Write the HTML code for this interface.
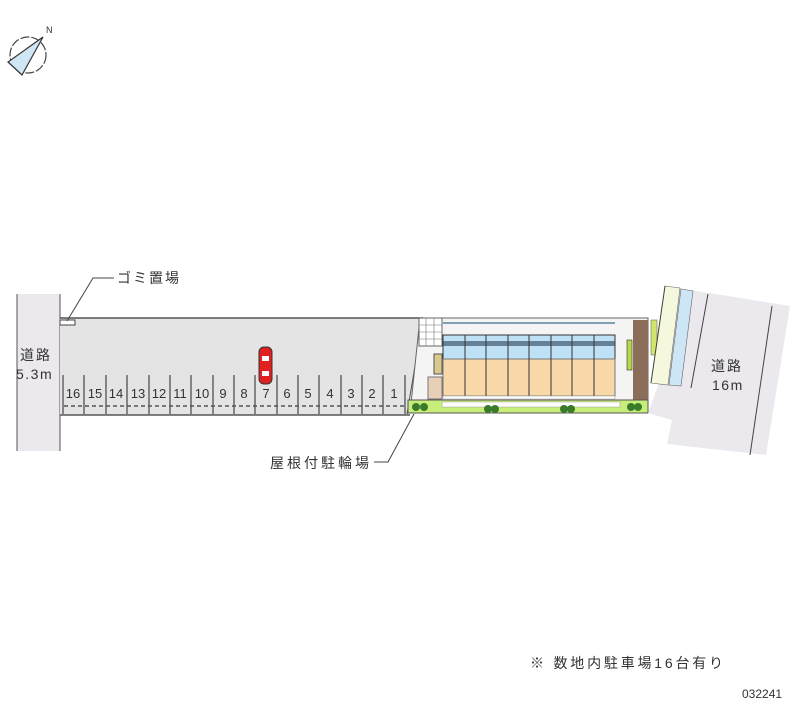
<!DOCTYPE html>
<html><head><meta charset="utf-8"><style>
html,body{margin:0;padding:0;background:#fff;}
svg{display:block;}
text{font-family:"Liberation Sans","Noto Sans CJK JP",sans-serif;fill:#333;}
</style></head><body>
<svg width="800" height="727" viewBox="0 0 800 727" xmlns="http://www.w3.org/2000/svg">
<circle cx="28" cy="55" r="18" fill="none" stroke="#444" stroke-width="1.2" stroke-dasharray="9 2"/>
<polygon points="43,37 8,62 22,75" fill="#cfe6f4" stroke="#333" stroke-width="1.2"/>
<text x="46" y="33" font-size="9">N</text>
<rect x="17" y="294" width="43" height="157" fill="#ebe8ee"/>
<line x1="17" y1="294" x2="17" y2="451" stroke="#555"/>
<line x1="60" y1="294" x2="60" y2="451" stroke="#555"/>
<text x="20" y="360" font-size="14" letter-spacing="2">道路</text>
<text x="16" y="379" font-size="14" letter-spacing="1.5">5.3m</text>
<polygon points="60,318 423,318 408,415 60,415" fill="#e4e4e4"/>
<line x1="60" y1="318" x2="423" y2="318" stroke="#555" stroke-width="1.5"/>
<line x1="60" y1="415" x2="410" y2="415" stroke="#555" stroke-width="1.5"/>
<line x1="423" y1="318" x2="407" y2="414" stroke="#555"/>
<rect x="60" y="320" width="15" height="5" fill="#fff" stroke="#444"/>
<g stroke="#444" stroke-width="1.2">
<line x1="63" y1="375" x2="63" y2="414"/><line x1="84" y1="375" x2="84" y2="414"/><line x1="106" y1="375" x2="106" y2="414"/><line x1="127" y1="375" x2="127" y2="414"/><line x1="149" y1="375" x2="149" y2="414"/><line x1="170" y1="375" x2="170" y2="414"/><line x1="191" y1="375" x2="191" y2="414"/><line x1="213" y1="375" x2="213" y2="414"/><line x1="234" y1="375" x2="234" y2="414"/><line x1="255" y1="375" x2="255" y2="414"/><line x1="277" y1="375" x2="277" y2="414"/><line x1="298" y1="375" x2="298" y2="414"/><line x1="319" y1="375" x2="319" y2="414"/><line x1="341" y1="375" x2="341" y2="414"/><line x1="362" y1="375" x2="362" y2="414"/><line x1="383" y1="375" x2="383" y2="414"/><line x1="405" y1="375" x2="405" y2="414"/>
</g>
<line x1="64" y1="406" x2="404" y2="406" stroke="#555" stroke-width="1.5" stroke-dasharray="4 3"/>
<g font-size="13" text-anchor="middle">
<text x="73" y="398">16</text><text x="95" y="398">15</text><text x="116" y="398">14</text><text x="138" y="398">13</text><text x="159" y="398">12</text><text x="180" y="398">11</text><text x="202" y="398">10</text><text x="223" y="398">9</text><text x="244" y="398">8</text><text x="266" y="398">7</text><text x="287" y="398">6</text><text x="308" y="398">5</text><text x="330" y="398">4</text><text x="351" y="398">3</text><text x="372" y="398">2</text><text x="394" y="398">1</text>
</g>
<rect x="259" y="347" width="13" height="37" rx="5" fill="#e32020" stroke="#333"/>
<rect x="262" y="356" width="7" height="5" fill="#fff"/><rect x="262" y="371" width="7" height="5" fill="#fff"/>
<polyline points="67,321 93,278 114,278" fill="none" stroke="#444"/>
<text x="117" y="283" font-size="14" letter-spacing="2">ゴミ置場</text>
<polyline points="414,414 388,462 374,462" fill="none" stroke="#444"/>
<text x="270" y="468" font-size="14" letter-spacing="3">屋根付駐輪場</text>
<polygon points="420,318 648,318 648,413 410,413" fill="#f4f4f4" stroke="#666"/>
<rect x="419" y="318" width="23" height="28" fill="#fff" stroke="#666"/>
<g stroke="#777" stroke-width="0.6"><line x1="419" y1="325" x2="442" y2="325"/><line x1="419" y1="332" x2="442" y2="332"/><line x1="419" y1="339" x2="442" y2="339"/><line x1="426" y1="318" x2="426" y2="346"/><line x1="434" y1="318" x2="434" y2="346"/></g>
<rect x="428" y="377" width="14" height="22" fill="#e8cfb8" stroke="#777"/>
<rect x="434" y="354" width="8" height="20" fill="#d9c98c" stroke="#555"/>
<rect x="443" y="322" width="172" height="2" fill="#7fa0b0"/>
<rect x="443" y="335" width="172" height="24" fill="#bfe1f5" stroke="#333"/>
<rect x="443" y="359" width="172" height="37" fill="#f8d8a8" stroke="#777"/>
<g stroke="#333" stroke-width="1">
<line x1="465" y1="335" x2="465" y2="396"/><line x1="486" y1="335" x2="486" y2="396"/><line x1="508" y1="335" x2="508" y2="396"/><line x1="529" y1="335" x2="529" y2="396"/><line x1="551" y1="335" x2="551" y2="396"/><line x1="572" y1="335" x2="572" y2="396"/><line x1="594" y1="335" x2="594" y2="396"/>
</g>
<rect x="443" y="341" width="172" height="5" fill="#2b3f55" opacity="0.6"/>
<rect x="443" y="396" width="172" height="3" fill="#fff" stroke="#999" stroke-width="0.5"/>
<rect x="633" y="320" width="15" height="93" fill="#8a6e5a"/>
<rect x="627" y="340" width="5" height="30" fill="#b7d84a" stroke="#333" stroke-width="0.6"/>
<rect x="651" y="320" width="6" height="35" fill="#cfe66a" stroke="#555" stroke-width="0.5"/>
<rect x="408" y="400" width="240" height="13" fill="#c8ee7a" stroke="#555"/>
<rect x="442" y="402" width="178" height="5" fill="#fff" stroke="#999" stroke-width="0.5"/>
<g fill="#3b7a2a"><circle cx="416" cy="407" r="4"/><circle cx="424" cy="407" r="4"/><circle cx="488" cy="409" r="4"/><circle cx="495" cy="409" r="4"/><circle cx="564" cy="409" r="4"/><circle cx="571" cy="409" r="4"/><circle cx="631" cy="407" r="4"/><circle cx="638" cy="407" r="4"/></g>
<polygon points="665,286 790,306 766,455 667,444 672,420 648,413 660,380" fill="#ebe8ee"/>
<polygon points="665,286 680,288 668,385 651,383" fill="#f5f8dd" stroke="#666" stroke-width="0.6"/>
<polygon points="681,289 693,291 681,386 669,385" fill="#cce6f6" stroke="#666" stroke-width="0.6"/>
<line x1="665" y1="286" x2="651" y2="383" stroke="#444"/>
<line x1="708" y1="294" x2="691" y2="388" stroke="#444"/>
<line x1="772" y1="306" x2="750" y2="455" stroke="#444"/>
<text x="711" y="371" font-size="14" letter-spacing="2">道路</text>
<text x="712" y="390" font-size="14" letter-spacing="1.5">16m</text>
<text x="530" y="668" font-size="14" letter-spacing="2.8">※ 数地内駐車場16台有り</text>
<text x="742" y="698" font-size="12">032241</text>
</svg>
</body></html>
